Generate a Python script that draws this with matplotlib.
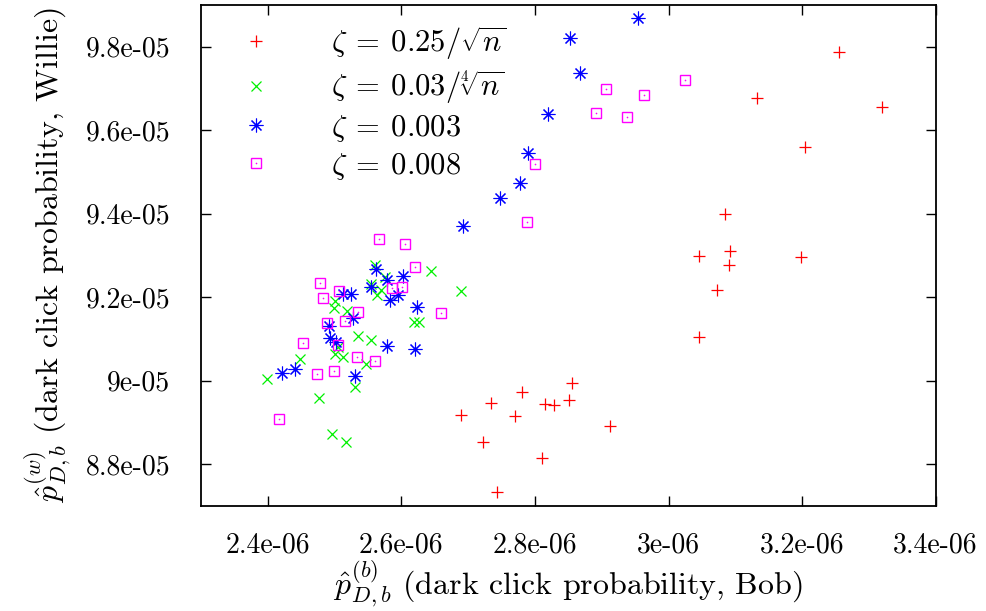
import matplotlib
matplotlib.use('Agg')
import matplotlib.pyplot as plt
import numpy as np
from matplotlib.legend_handler import HandlerTuple

plt.rcParams['font.family'] = 'serif'
plt.rcParams['font.serif'] = ['cmr10']
plt.rcParams['mathtext.fontset'] = 'cm'
plt.rcParams['axes.unicode_minus'] = False

# x values in units of 1e-06, y values in units of 1e-05
red_x = [3.256, 3.133, 3.320, 3.204, 3.084, 3.045, 3.092, 3.090, 3.073, 3.199,
         3.046, 2.689, 2.734, 2.723, 2.781, 2.770, 2.743, 2.815, 2.829, 2.851,
         2.856, 2.811, 2.912]
red_y = [9.788, 9.676, 9.656, 9.559, 9.398, 9.299, 9.310, 9.276, 9.216, 9.295,
         9.104, 8.918, 8.946, 8.852, 8.972, 8.915, 8.733, 8.944, 8.941, 8.954,
         8.995, 8.814, 8.891]

green_x = [2.561, 2.644, 2.575, 2.554, 2.569, 2.563, 2.689, 2.501, 2.499, 2.518,
           2.619, 2.626, 2.535, 2.554, 2.448, 2.505, 2.501, 2.512, 2.547, 2.399,
           2.531, 2.477, 2.496, 2.517]
green_y = [9.278, 9.263, 9.248, 9.232, 9.218, 9.204, 9.215, 9.190, 9.175, 9.168,
           9.140, 9.140, 9.108, 9.097, 9.053, 9.080, 9.065, 9.056, 9.039, 9.004,
           8.984, 8.959, 8.872, 8.854]

blue_x = [2.954, 2.853, 2.868, 2.819, 2.790, 2.777, 2.747, 2.693, 2.562, 2.578,
          2.603, 2.555, 2.595, 2.583, 2.512, 2.524, 2.623, 2.527, 2.492, 2.493,
          2.502, 2.579, 2.620, 2.441, 2.422, 2.530]
blue_y = [9.868, 9.820, 9.738, 9.638, 9.546, 9.473, 9.437, 9.371, 9.267, 9.242,
          9.250, 9.224, 9.205, 9.192, 9.207, 9.208, 9.176, 9.149, 9.130, 9.103,
          9.092, 9.082, 9.077, 9.028, 9.018, 9.010]

mag_x = [3.025, 2.907, 2.964, 2.891, 2.938, 2.800, 2.788, 2.566, 2.606, 2.621,
         2.478, 2.507, 2.482, 2.586, 2.601, 2.535, 2.516, 2.489, 2.660, 2.453,
         2.505, 2.533, 2.561, 2.473, 2.499, 2.417]
mag_y = [9.720, 9.698, 9.683, 9.642, 9.631, 9.519, 9.381, 9.339, 9.327, 9.273,
         9.234, 9.214, 9.199, 9.221, 9.224, 9.164, 9.143, 9.137, 9.163, 9.090,
         9.086, 9.056, 9.048, 9.016, 9.023, 8.909]

labels = [r'$\zeta\:=\:0.25/\sqrt{n}$', r'$\zeta\:=\:0.03/\sqrt[4]{n}$',
          r'$\zeta\:=\:0.003$', r'$\zeta\:=\:0.008$']

xticks = [2.4e-06, 2.6e-06, 2.8e-06, 3e-06, 3.2e-06, 3.4e-06]
xticklabels = ['2.4e-06', '2.6e-06', '2.8e-06', '3e-06', '3.2e-06', '3.4e-06']
yticks = [8.8e-05, 9e-05, 9.2e-05, 9.4e-05, 9.6e-05, 9.8e-05]
yticklabels = ['8.8e-05', '9e-05', '9.2e-05', '9.4e-05', '9.6e-05', '9.8e-05']

fig = plt.figure(figsize=(9.87, 6.11), dpi=100)
ax = fig.add_subplot(111)
fig.subplots_adjust(left=0.2036, right=0.948, top=0.992, bottom=0.172)

ms = 9
h_red, = ax.plot(np.array(red_x) * 1e-6, np.array(red_y) * 1e-5, ls='none',
                 marker='+', ms=ms, mew=0.9, color='#ff0000')
h_green, = ax.plot(np.array(green_x) * 1e-6, np.array(green_y) * 1e-5, ls='none',
                   marker='x', ms=ms * 0.8, mew=0.9, color='#00f000')
h_blue, = ax.plot(np.array(blue_x) * 1e-6, np.array(blue_y) * 1e-5, ls='none',
                  marker=(8, 2, 0), ms=ms * 1.1, mew=0.8, color='#0000ff')
h_mag, = ax.plot(np.array(mag_x) * 1e-6, np.array(mag_y) * 1e-5, ls='none',
                 marker='s', ms=ms * 0.8, mew=1.0, mfc='none', color='#ff00ff')
h_dot, = ax.plot(np.array(mag_x) * 1e-6, np.array(mag_y) * 1e-5, ls='none',
                 marker='o', ms=1.2, mew=0, color='#ff00ff')

ax.set_xlim(2.3e-06, 3.4e-06)
ax.set_ylim(8.7e-05, 9.9e-05)
ax.set_xticks(xticks)
ax.set_xticklabels(xticklabels)
ax.set_yticks(yticks)
ax.set_yticklabels(yticklabels)
ax.tick_params(direction='in', length=7, width=1.0, top=True, right=True,
               labelsize=20)
ax.tick_params(axis='x', pad=19)
ax.tick_params(axis='y', pad=22)
for s in ax.spines.values():
    s.set_linewidth(1.3)

ax.set_xlabel(r'$\hat{p}_{D,b}^{(b)}$ (dark click probability, Bob)',
              fontsize=23, labelpad=0)
ax.set_ylabel(r'$\hat{p}_{D,b}^{(w)}$ (dark click probability, Willie)',
              fontsize=23, labelpad=9)

ax.legend([h_red, h_green, h_blue, (h_mag, h_dot)], labels,
          handler_map={tuple: HandlerTuple(ndivide=1)},
          loc='upper left', bbox_to_anchor=(0.033, 0.962), frameon=False,
          fontsize=22, handlelength=2.0, handletextpad=1.45,
          labelspacing=0.22, borderpad=0, borderaxespad=0)

fig.savefig('out.png', dpi=100)
